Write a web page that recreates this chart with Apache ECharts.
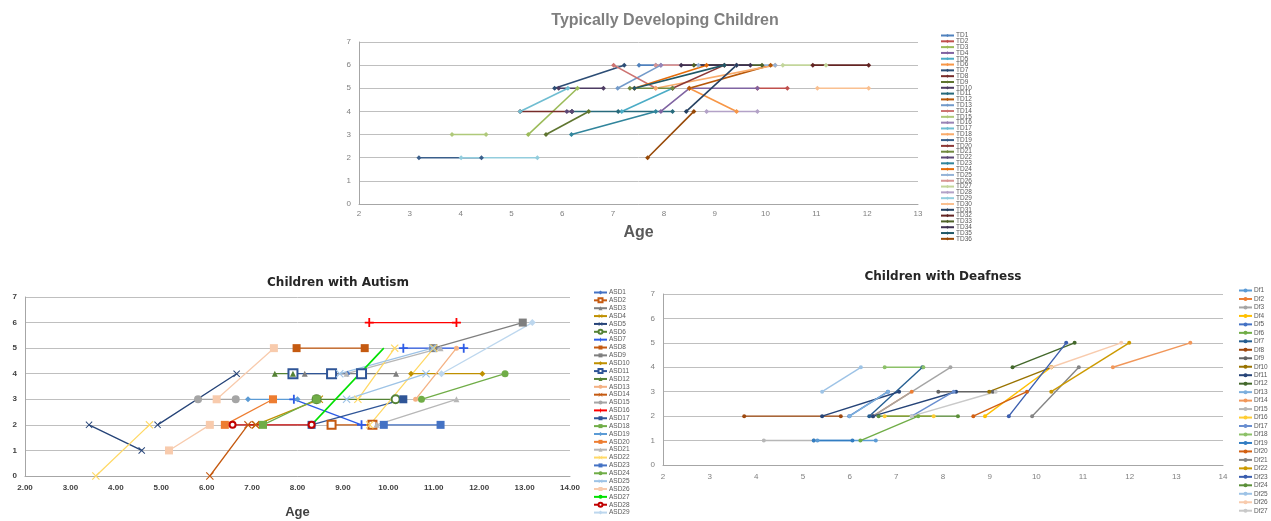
<!DOCTYPE html>
<html><head><meta charset="utf-8">
<script src="https://cdn.jsdelivr.net/npm/echarts@6/dist/echarts.min.js"></script>
<style>html,body{margin:0;padding:0;background:#fff}#c{width:1271px;height:521px}</style>
</head><body><div id="c"></div>
<script>
// ---------- Typically Developing ----------
const tdNames = ['TD1','TD2','TD3','TD4','TD5','TD6','TD7','TD8','TD9','TD10','TD11','TD12','TD13','TD14','TD15','TD16','TD17','TD18','TD19','TD20','TD21','TD22','TD23','TD24','TD25','TD26','TD27','TD28','TD29','TD30','TD31','TD32','TD33','TD34','TD35','TD36'];
const tdData = [
  [[7.51,6],[7.84,6]],
  [[9.84,5],[10.43,5]],
  [[5.33,3],[6.3,5]],
  [[7.94,4],[8.5,5],[9.84,5]],
  [[7.17,4],[8.17,5]],
  [[8.5,5],[9.43,4]],
  [[5.85,5],[7.22,6]],
  [[5.17,4],[6.19,4]],
  [[5.68,3],[6.52,4]],
  [[5.93,5],[6.81,5]],
  [[6.19,4],[7.1,4],[8.17,4]],
  [[8.5,5],[10.1,6]],
  [[7.09,5],[7.94,6]],
  [[7.01,6],[7.84,5]],
  [[3.83,3],[4.5,3]],
  [[7.94,6],[9.43,6]],
  [[5.17,4],[6.11,5]],
  [[7.84,5],[10.19,6]],
  [[3.18,2],[4.41,2]],
  [[8.17,5],[9.19,6]],
  [[7.33,5],[8.17,5]],
  [[6.09,4],[6.19,4]],
  [[6.18,3],[7.84,4]],
  [[7.42,5],[8.84,6]],
  [[8.68,6],[10.19,6]],
  [[7.84,6],[9.43,6]],
  [[10.34,6],[11.19,6]],
  [[8.84,4],[9.84,4]],
  [[4.01,2],[5.51,2]],
  [[11.02,5],[12.03,5]],
  [[8.44,4],[9.43,6]],
  [[10.93,6],[12.03,6]],
  [[8.59,6],[9.93,6]],
  [[8.34,6],[9.7,6]],
  [[7.42,5],[9.19,6]],
  [[7.68,2],[8.59,4]]
];
const tdColors = ['#4F81BD','#C0504D','#9BBB59','#8064A2','#4BACC6','#F79646','#2C4D75','#772C2A','#5F7530','#4D3B62','#276A7C','#B65708','#729ACA','#CD7371','#AFC97A','#9983B5','#6FBDD1','#F9AB6B','#3A5F8B','#8C3836','#71893F','#5C4776','#31859C','#E46C0A','#95B3D7','#D99694','#C3D69B','#B3A2C7','#93CDDD','#FAC090','#254061','#632423','#4F6228','#3F3151','#205867','#974806'];

// ---------- Autism ----------
const asdNames = ['ASD1','ASD2','ASD3','ASD4','ASD5','ASD6','ASD7','ASD8','ASD9','ASD10','ASD11','ASD12','ASD13','ASD14','ASD15','ASD16','ASD17','ASD18','ASD19','ASD20','ASD21','ASD22','ASD23','ASD24','ASD25','ASD26','ASD27','ASD28','ASD29'];
const asdData = [
  [[8.75,4],[9.1,4]],
  [[8.75,2],[9.65,2]],
  [[8.16,4],[10.17,4]],
  [[7.08,2],[8.48,3]],
  [[3.41,2],[4.57,1],'-',[4.92,2],[6.66,4]],
  [[8.42,3],[10.16,3]],
  [[7.92,3],[9.41,2],'-',[10.33,5],[11.66,5]],
  [[7.98,5],[9.48,5]],
  [[10.99,5],[12.96,6]],
  [[10.5,4],[12.07,4]],
  [[7.9,4],[8.75,4],'-',[9.41,4]],
  [[7.5,4],[7.9,4]],
  [[10.6,3],[11.5,5]],
  [[6.07,0],[6.91,2],[7.08,2]],
  [[5.81,3],[6.64,3]],
  [[9.58,6],[11.5,6]],
  [[8.31,2],[10.33,3]],
  [[7.24,2],[8.42,3]],
  [[6.91,3],[8.0,3]],
  [[6.4,2],[7.46,3]],
  [[9.74,2],[11.5,3],'-',[9.08,4],[11.15,5]],
  [[3.56,0],[4.74,2],'-',[9.33,3],[10.14,5],'-',[9.59,2],[11.0,5]],
  [[9.9,2],[11.15,2]],
  [[10.73,3],[12.57,4]],
  [[9.08,3],[10.83,4],'-',[8.93,4],[10.97,5]],
  [[5.17,1],[6.07,2],'-',[6.22,3],[7.48,5]],
  [[8.31,2],[9.9,5]],
  [[6.57,2],[8.31,2]],
  [[11.17,4],[13.17,6]]
];
const asdColors = ['#4472C4','#C55A11','#7F7F7F','#BF9000','#264478','#548235','#2E5CE6','#C55A11','#7F7F7F','#BF9000','#2F5597','#548235','#F4B183','#C55A11','#A5A5A5','#FF0000','#2F5597','#70AD47','#5B9BD5','#ED7D31','#B7B7B7','#FFD966','#4472C4','#70AD47','#9DC3E6','#F8CBAD','#00E000','#C00000','#BDD7EE'];

// ---------- Deafness ----------
const dfNames = ['Df1','Df2','Df3','Df4','Df5','Df6','Df7','Df8','Df9','Df10','Df11','Df12','Df13','Df14','Df15','Df16','Df17','Df18','Df19','Df20','Df21','Df22','Df23','Df24','Df25','Df26','Df27'];
const dfData = [
  [[5.31,1],[6.56,1]],
  [[6.5,2],[7.33,3]],
  [[6.5,2],[8.16,4]],
  [[8.9,2],[10.32,4]],
  [[5.99,2],[6.82,3]],
  [[6.23,1],[7.47,2]],
  [[6.42,2],[7.56,4]],
  [[3.74,2],[5.81,2]],
  [[7.9,3],[9.07,3]],
  [[8.99,3],[10.32,4]],
  [[5.41,2],[7.06,3],'-',[6.5,2],[8.28,3]],
  [[9.49,4],[10.82,5]],
  [[6.0,2],[6.82,3]],
  [[11.64,4],[13.3,5]],
  [[4.16,1],[5.23,1]],
  [[6.75,2],[7.8,2]],
  [[7.33,2],[8.23,3]],
  [[6.75,4],[7.58,4]],
  [[5.23,1],[6.06,1]],
  [[8.65,2],[9.8,3]],
  [[9.91,2],[10.91,4]],
  [[10.32,3],[11.99,5]],
  [[9.41,2],[10.64,5]],
  [[6.62,2],[8.32,2]],
  [[5.41,3],[6.24,4]],
  [[10.32,4],[11.82,5]],
  [[7.33,2],[9.13,3]]
];
const dfColors = ['#5B9BD5','#ED7D31','#A5A5A5','#FFC000','#4472C4','#70AD47','#255E91','#9E480E','#636363','#997300','#264478','#43682B','#7CAFDD','#F1975A','#B7B7B7','#FFCD33','#698ED0','#8CC168','#327DC2','#D26012','#848484','#CC9A00','#3A5DAE','#5A8F38','#9DC3E6','#F8CBAD','#C9C9C9'];

const xSym = 'path://M0,1L1,0L5,4L9,0L10,1L6,5L10,9L9,10L5,6L1,10L0,9L4,5Z';
const plusSym = 'path://M4,0H6V4H10V6H6V10H4V6H0V4H4Z';
const dashSym = 'path://M0,3.5H10V6.5H0Z';
const asdSymbols = ['diamond','emptyRect','triangle',xSym,xSym,'emptyCircle',plusSym,dashSym,dashSym,'diamond','emptyRect','triangle','circle',xSym,'circle',plusSym,dashSym,dashSym,'diamond','rect','triangle',xSym,'rect','circle',xSym,dashSym,'none','emptyCircle','diamond'];
const asdSizes  = [6,8,6,8,7,8,9,8,8,6,9,6,5,8,8,9,8,8,6,8,6,8,8,7,8,8,4,6,7];

const FF = 'Liberation Sans, Arial, sans-serif';
const series = [];
tdNames.forEach((n,i)=>series.push({name:n,type:'line',xAxisIndex:0,yAxisIndex:0,data:tdData[i],
  symbol:'diamond',symbolSize:5,color:tdColors[i],lineStyle:{width:1.6},showSymbol:true}));
asdNames.forEach((n,i)=>series.push({name:n,type:'line',xAxisIndex:1,yAxisIndex:1,data:asdData[i],
  symbol:asdSymbols[i],symbolSize:asdSizes[i],color:asdColors[i],lineStyle:{width:i===26?1.6:1.3},
  itemStyle:{borderWidth:1.2}}));
dfNames.forEach((n,i)=>series.push({name:n,type:'line',xAxisIndex:2,yAxisIndex:2,data:dfData[i],
  symbol:'circle',symbolSize:4,color:dfColors[i],lineStyle:{width:1.4}}));

function xAx(gi, max, fmt, col, bold, name, gap, fs, margin){
  return {gridIndex:gi,type:'value',min:2,max:max,interval:1,
    axisLine:{show:true,lineStyle:{color:'#A6A6A6',width:1}},axisTick:{show:false},
    splitLine:{show:false},
    axisLabel:{color:col,fontSize:fs,fontFamily:FF,fontWeight:bold?'bold':'normal',margin:margin,formatter:fmt},
    name:name,nameLocation:'middle',nameGap:gap,
    nameTextStyle:{fontSize:gi===0?16:13,fontWeight:'bold',color:gi===0?'#595959':'#404040',fontFamily:FF}};
}
function yAx(gi,col,bold,fs){
  return {gridIndex:gi,type:'value',min:0,max:7,interval:1,
    axisLine:{show:true,lineStyle:{color:'#A6A6A6'}},axisTick:{show:false},
    splitLine:{show:true,lineStyle:{color:'#BFBFBF',width:1}},
    axisLabel:{color:col,fontSize:fs,fontFamily:FF,fontWeight:bold?'bold':'normal',margin:8}};
}
function leg(names,left,top,ih,gap,fs){
  return {data:names,orient:'vertical',left:left,top:top,itemWidth:13,itemHeight:ih,itemGap:gap,padding:0,
    height:400,
    textStyle:{fontSize:fs,color:'#595959',fontFamily:FF,padding:[0,0,0,-3]},
    selectedMode:false};
}

const option = {
  animation:false,
  backgroundColor:'#fff',
  title:[
    {text:'Typically Developing Children',left:660,top:8,textAlign:'center',
      textStyle:{fontSize:16,fontWeight:'bold',color:'#7F7F7F',fontFamily:FF}},
    {text:'Children with Autism',left:333,top:272,textAlign:'center',
      textStyle:{fontSize:12,fontWeight:'bold',color:'#262626',fontFamily:'DejaVu Sans'}},
    {text:'Children with Deafness',left:938,top:266,textAlign:'center',
      textStyle:{fontSize:12,fontWeight:'bold',color:'#262626',fontFamily:'DejaVu Sans'}}
  ],
  grid:[
    {left:359,top:42,width:559,height:162},
    {left:25,top:297,width:545,height:179},
    {left:663,top:294,width:560,height:171}
  ],
  xAxis:[
    xAx(0,13,v=>String(v),'#7F7F7F',false,'Age',21,8,6),
    xAx(1,14,v=>v.toFixed(2),'#404040',true,'Age',30,8,8),
    xAx(2,14,v=>String(v),'#7F7F7F',false,'',20,8,8)
  ],
  yAxis:[yAx(0,'#7F7F7F',false,8),yAx(1,'#404040',true,8),yAx(2,'#7F7F7F',false,8)],
  legend:[
    leg(tdNames,940,32,4,-1.19,6.5),
    leg(asdNames,593,289,5,0.86,6.5),
    leg(dfNames,1238,287,5,1.47,6.5)
  ],
  series:series
};
const chart = echarts.init(document.getElementById('c'),null,{renderer:'canvas'});
chart.setOption(option);
</script></body></html>
